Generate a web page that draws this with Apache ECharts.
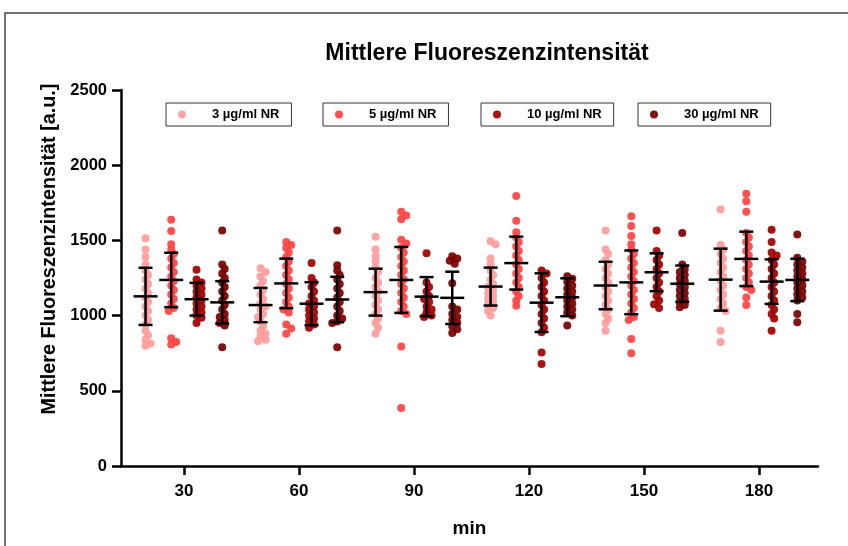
<!DOCTYPE html>
<html><head><meta charset="utf-8">
<script src="https://cdn.jsdelivr.net/npm/echarts@6/dist/echarts.min.js"></script>
<style>html,body{margin:0;padding:0;background:#fff}#c{width:848px;height:546px}</style>
</head><body><div id="c"></div>
<script>
const times = [30, 60, 90, 120, 150, 180];
const yTicks = [0, 500, 1000, 1500, 2000, 2500];
const seriesNames = ['3 µg/ml NR', '5 µg/ml NR', '10 µg/ml NR', '30 µg/ml NR'];
const seriesColors = ['#FF9C9C', '#FF4242', '#A00000', '#7A0000'];

// individual points per time (30..180)
const points3 = [
  [1515, 1440, 1390, 1340, 1300, 1270, 1240, 1210, 1180, 1150, 1120, 1090, 1060, 1030, 1000, 970, 940, 900, 870, 840, 815, 800],
  [1315, 1290, 1260, 1230, 1200, 1170, 1140, 1110, 1080, 1060, 1040, 1010, 990, 960, 930, 900, 880, 860, 840, 830],
  [1525, 1440, 1395, 1360, 1320, 1290, 1250, 1220, 1190, 1160, 1130, 1100, 1070, 1040, 1010, 980, 950, 920, 880],
  [1495, 1475, 1380, 1340, 1300, 1270, 1240, 1210, 1190, 1170, 1150, 1130, 1110, 1090, 1070, 1050, 1030, 1000],
  [1565, 1440, 1410, 1370, 1340, 1310, 1280, 1250, 1220, 1190, 1160, 1130, 1100, 1070, 1040, 1010, 980, 950, 900],
  [1705, 1470, 1440, 1410, 1380, 1350, 1320, 1290, 1260, 1230, 1200, 1170, 1140, 1110, 1080, 1050, 1030, 900, 825]
];
const points5 = [
  [1638, 1562, 1475, 1440, 1410, 1380, 1350, 1320, 1290, 1260, 1230, 1200, 1170, 1140, 1110, 1080, 1050, 1030, 850, 825, 808],
  [1490, 1470, 1450, 1420, 1390, 1360, 1330, 1300, 1270, 1240, 1210, 1180, 1150, 1120, 1090, 1060, 1040, 1020, 940, 915, 880],
  [1690, 1665, 1640, 1505, 1480, 1450, 1420, 1390, 1360, 1330, 1300, 1270, 1240, 1210, 1180, 1150, 1120, 1090, 1060, 1030, 1010, 795, 385],
  [1795, 1630, 1555, 1520, 1490, 1460, 1430, 1400, 1370, 1340, 1310, 1280, 1250, 1220, 1190, 1160, 1130, 1100, 1065],
  [1660, 1595, 1530, 1475, 1440, 1410, 1380, 1350, 1320, 1290, 1260, 1230, 1200, 1170, 1140, 1110, 1080, 1050, 1020, 990, 970, 845, 750],
  [1810, 1760, 1690, 1550, 1520, 1490, 1460, 1430, 1400, 1370, 1340, 1310, 1280, 1250, 1220, 1190, 1170, 1120, 1070]
];
const points10 = [
  [1305, 1240, 1220, 1200, 1180, 1160, 1140, 1120, 1100, 1080, 1060, 1040, 1020, 1000, 985, 950],
  [1350, 1250, 1220, 1190, 1160, 1130, 1100, 1080, 1060, 1040, 1020, 1000, 980, 960, 940, 920],
  [1415, 1220, 1190, 1160, 1130, 1110, 1090, 1060, 1040, 1020, 1000, 990],
  [1300, 1280, 1250, 1220, 1190, 1160, 1130, 1100, 1070, 1040, 1010, 980, 950, 920, 890, 755, 678],
  [1565, 1430, 1400, 1370, 1340, 1310, 1280, 1250, 1220, 1190, 1160, 1130, 1100, 1075, 1050],
  [1570, 1490, 1420, 1400, 1370, 1340, 1310, 1280, 1250, 1220, 1190, 1160, 1130, 1100, 1070, 1040, 1010, 980, 900]
];
const points30 = [
  [1565, 1340, 1310, 1280, 1250, 1220, 1190, 1160, 1130, 1100, 1070, 1040, 1010, 990, 970, 950, 935, 790],
  [1565, 1335, 1300, 1270, 1240, 1210, 1180, 1150, 1120, 1090, 1060, 1030, 1000, 980, 960, 950, 790],
  [1395, 1380, 1365, 1345, 1215, 1060, 1040, 1010, 990, 970, 950, 930, 910, 885],
  [1262, 1245, 1225, 1200, 1180, 1160, 1140, 1120, 1100, 1080, 1060, 1040, 1020, 1000, 935],
  [1550, 1340, 1310, 1290, 1270, 1250, 1230, 1210, 1190, 1170, 1150, 1130, 1110, 1090, 1070, 1055],
  [1540, 1385, 1360, 1340, 1320, 1300, 1280, 1260, 1240, 1220, 1200, 1180, 1160, 1140, 1120, 1100, 1010, 955]
];

// mean and SD per time
const mean3 = [1128, 1070, 1156, 1193, 1200, 1239];
const sd3 = [190, 114, 156, 126, 158, 206];
const mean5 = [1237, 1214, 1237, 1349, 1221, 1377];
const sd5 = [181, 165, 219, 176, 212, 181];
const mean10 = [1109, 1079, 1126, 1086, 1288, 1226];
const sd10 = [109, 143, 130, 195, 126, 148];
const mean30 = [1088, 1107, 1118, 1122, 1212, 1237];
const sd30 = [141, 151, 174, 126, 121, 141];

const allPoints = [points3, points5, points10, points30];
const allMeans = [mean3, mean5, mean10, mean30];
const allSds = [sd3, sd5, sd10, sd30];
const groupOffsets = [-10, -3.3, 3.3, 10];

const chart = echarts.init(document.getElementById('c'), null, {renderer: 'canvas'});
const FONT = 'Liberation Sans, Arial, sans-serif';

const legendLefts = [166, 323, 481, 638];
const legends = seriesNames.map((n, i) => ({
  data: [n], left: legendLefts[i], top: 103, orient: 'horizontal',
  icon: 'circle', itemWidth: 8, itemHeight: 8,
  borderColor: '#333', borderWidth: 1, padding: [5, 12, 5, 12],
  selectedMode: false,
  textStyle: {fontFamily: FONT, fontWeight: 'bold', fontSize: 13, color: '#000', padding: [0, 0, 0, 21]}
}));

const baseOption = {
  animation: false,
  backgroundColor: '#fff',
  title: {
    text: 'Mittlere Fluoreszenzintensität', left: 482, textAlign: 'center', top: 37,
    textStyle: {fontFamily: FONT, fontWeight: 'bold', fontSize: 23, color: '#000'}
  },
  legend: legends,
  graphic: [{type: 'rect', shape: {x: 5, y: 13, width: 900, height: 600}, style: {fill: 'none', stroke: '#444', lineWidth: 1.5}, silent: true}],
  grid: {left: 121, right: 30, top: 90, bottom: 80},
  xAxis: {
    type: 'value', min: 13.6, max: 195.4,
    name: 'min', nameLocation: 'middle', nameGap: 53,
    nameTextStyle: {fontFamily: FONT, fontWeight: 'bold', fontSize: 19, color: '#000'},
    axisLine: {onZero: false, lineStyle: {color: '#000', width: 2.5}},
    axisTick: {show: true, length: 9, lineStyle: {color: '#000', width: 2.5}, customValues: times},
    axisLabel: {customValues: times, fontFamily: FONT, fontWeight: 'bold', fontSize: 17, color: '#000', margin: 17},
    splitLine: {show: false}
  },
  yAxis: {
    type: 'value', min: 0, max: 2500, interval: 500,
    name: 'Mittlere Fluoreszenzintensität [a.u.]', nameLocation: 'middle', nameGap: 59,
    nameTextStyle: {fontFamily: FONT, fontWeight: 'bold', fontSize: 19.8, color: '#000', padding: [0, 0, 0, 58]},
    axisLine: {show: true, lineStyle: {color: '#000', width: 2.5}},
    axisTick: {show: true, length: 9, lineStyle: {color: '#000', width: 2.5}},
    axisLabel: {fontFamily: FONT, fontWeight: 'bold', fontSize: 16.5, color: '#000', margin: 14,
      formatter: v => yTicks.includes(v) ? String(v) : ''},
    splitLine: {show: false}
  },
  series: []
};
chart.setOption(baseOption);

// beeswarm layout computed from values
const p0 = chart.convertToPixel({gridIndex: 0}, [0, 0]);
const p1 = chart.convertToPixel({gridIndex: 0}, [100, 1000]);
const pxPerX = (p1[0] - p0[0]) / 100;
const pxPerY = (p0[1] - p1[1]) / 1000;
const minDist = 4.6, step = 2.5;

function swarm(vals, center) {
  const placed = [];
  const out = [];
  const sorted = vals.slice().sort((a, b) => b - a);
  for (const v of sorted) {
    const y = v * pxPerY;
    let chosen = 0;
    for (let k = 0; k < 20; k++) {
      const dx = (k === 0 ? 0 : (k % 2 ? 1 : -1) * Math.ceil(k / 2)) * step;
      let ok = true;
      for (const p of placed) {
        const ddx = dx - p[0], ddy = y - p[1];
        if (ddx * ddx + ddy * ddy < minDist * minDist) { ok = false; break; }
      }
      if (ok) { chosen = dx; break; }
    }
    placed.push([chosen, y]);
    out.push([center + chosen / pxPerX, v]);
  }
  return out;
}

const series = [];
seriesNames.forEach((name, si) => {
  const data = [];
  times.forEach((t, ti) => {
    swarm(allPoints[si][ti], t + groupOffsets[si]).forEach(d => data.push(d));
  });
  series.push({
    name, type: 'scatter', data, symbol: 'circle', symbolSize: 8,
    itemStyle: {color: seriesColors[si], opacity: 0.92}, z: 2
  });
});
seriesNames.forEach((name, si) => {
  series.push({
    name: name + ' SD', type: 'custom', z: 5,
    data: times.map((t, ti) => [t + groupOffsets[si], allMeans[si][ti], allSds[si][ti]]),
    renderItem: (params, api) => {
      const x = api.value(0), m = api.value(1), s = api.value(2);
      const c = api.coord([x, m]), top = api.coord([x, m + s]), bot = api.coord([x, m - s]);
      const style = {stroke: '#000', lineWidth: 2.5};
      return {type: 'group', children: [
        {type: 'line', shape: {x1: c[0], y1: top[1], x2: c[0], y2: bot[1]}, style},
        {type: 'line', shape: {x1: c[0] - 7, y1: top[1], x2: c[0] + 7, y2: top[1]}, style},
        {type: 'line', shape: {x1: c[0] - 7, y1: bot[1], x2: c[0] + 7, y2: bot[1]}, style},
        {type: 'line', shape: {x1: c[0] - 12, y1: c[1], x2: c[0] + 12, y2: c[1]}, style}
      ]};
    }
  });
});
chart.setOption({series});
</script></body></html>
